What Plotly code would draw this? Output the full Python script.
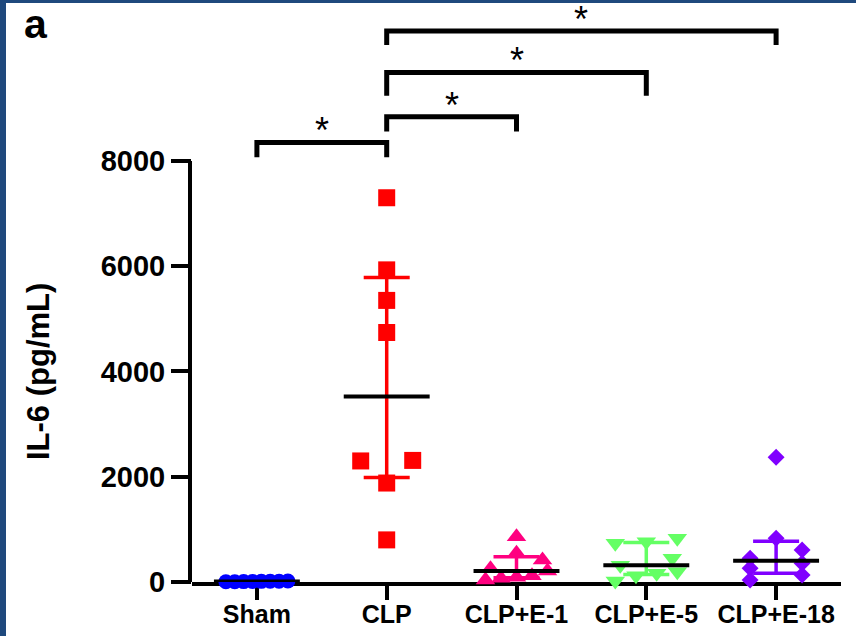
import numpy as np
import plotly.graph_objects as go

# ---------------- data ----------------
categories = ["Sham", "CLP", "CLP+E-1", "CLP+E-5", "CLP+E-18"]
sham = [12, 8, 15, 5, 10, 18, 6, 14]
clp = [7300, 5930, 5350, 4740, 2310, 2300, 1880, 800]
clp_e1 = [861, 545, 418, 250, 210, 120, 90, 70, 40]
clp_e5 = [830, 766, 735, 450, 320, 195, 165, 120, 20]
clp_e18 = [2370, 830, 608, 450, 355, 260, 133, 38]
y_tick_values = [0, 2000, 4000, 6000, 8000]

# significance comparisons (group index pairs), bracket level and tip drop (pg/mL)
comparisons = [(0, 1), (1, 2), (1, 3), (1, 4)]
bracket_levels = [8350, 8840, 9680, 10470]
bracket_drops = [280, 280, 440, 270]
sig_labels = ["*", "*", "*", "*"]

groups = [sham, clp, clp_e1, clp_e5, clp_e18]
colors = ["rgb(0,0,255)", "rgb(255,0,0)", "rgb(255,0,128)", "rgb(100,255,100)", "rgb(128,0,255)"]
symbols = ["circle", "square", "triangle-up", "triangle-down", "diamond"]
msizes = [15, 17, 17, 17, 13]

# ---------------- layout geometry ----------------
W, H = 856, 636
ML, MR, MT, MB = 192, 15, 3, 54
YMAX = 11000
plot_w = W - ML - MR
plot_h = H - MT - MB
px_per_val = plot_h / YMAX
px_per_cat = plot_w / len(categories)


def scatter_offsets(vals, row_px=10, max_width_px=62, max_step_px=52):
    """GraphPad-like horizontal spreading of points falling in the same row."""
    vals = np.asarray(vals, float)
    order = np.argsort(vals)
    offs = np.zeros(len(vals))
    rows, cur = [], [order[0]]
    for idx in order[1:]:
        if (vals[idx] - vals[cur[0]]) * px_per_val < row_px:
            cur.append(idx)
        else:
            rows.append(cur)
            cur = [idx]
    rows.append(cur)
    for row in rows:
        n = len(row)
        if n == 1:
            continue
        step = min(max_step_px, max_width_px / (n - 1))
        for k, idx in enumerate(row):
            offs[idx] = (k - (n - 1) / 2) * step
    return offs / px_per_cat


fig = go.Figure()

# points
for i, vals in enumerate(groups):
    offs = scatter_offsets(vals)
    fig.add_trace(go.Scatter(
        x=i + offs, y=vals, mode="markers",
        marker=dict(symbol=symbols[i], size=msizes[i], color=colors[i], line=dict(width=0)),
        cliponaxis=False, showlegend=False, hoverinfo="y"))

# median with interquartile range
medians, q1s, q3s = [], [], []
for vals in groups:
    q1, med, q3 = np.percentile(vals, [25, 50, 75], method="weibull")
    medians.append(med); q1s.append(q1); q3s.append(q3)

for i in range(len(groups)):
    fig.add_trace(go.Scatter(
        x=[i], y=[medians[i]], mode="markers", marker=dict(size=0.1, color=colors[i]),
        error_y=dict(type="data", symmetric=False,
                     array=[q3s[i] - medians[i]], arrayminus=[medians[i] - q1s[i]],
                     color=colors[i], thickness=3.5, width=23),
        cliponaxis=False, showlegend=False, hoverinfo="skip"))

mx, my = [], []
for i, m in enumerate(medians):
    mx += [i - 0.331, i + 0.331, None]
    my += [m, m, None]
fig.add_trace(go.Scatter(x=mx, y=my, mode="lines", line=dict(color="black", width=4),
                         cliponaxis=False, showlegend=False, hoverinfo="skip"))

shapes = []
# y-axis line only from 0 to 8000
shapes.append(dict(type="line", xref="paper", xsizemode="pixel", xanchor=0, x0=-2, x1=-2,
                   yref="y", y0=0, y1=max(y_tick_values),
                   line=dict(color="black", width=4)))
# significance brackets
for (a, b), lvl, d in zip(comparisons, bracket_levels, bracket_drops):
    shapes.append(dict(type="path", xref="x", yref="y",
                       path=f"M {a},{lvl - d} V {lvl} H {b} V {lvl - d}",
                       line=dict(color="black", width=5)))
# dark blue frame (left and top edges)
shapes.append(dict(type="rect", xref="paper", xsizemode="pixel", xanchor=0, x0=-ML, x1=-ML + 6,
                   yref="paper", y0=-1, y1=2, fillcolor="rgb(31,73,125)", line=dict(width=0)))
shapes.append(dict(type="rect", xref="paper", x0=-1, x1=2,
                   yref="paper", ysizemode="pixel", yanchor=1, y0=0, y1=MT,
                   fillcolor="rgb(31,73,125)", line=dict(width=0)))

annotations = []
for (a, b), lvl, lab in zip(comparisons, bracket_levels, sig_labels):
    annotations.append(dict(x=(a + b) / 2, y=lvl, xref="x", yref="y", text=lab, showarrow=False,
                            yanchor="bottom", yshift=-10, borderpad=0,
                            font=dict(family="Liberation Sans", size=36, color="black")))
# panel letter
annotations.append(dict(x=-(ML - 23) / plot_w, y=(H - MB - 48) / plot_h, xref="paper", yref="paper",
                        text="a", showarrow=False, xanchor="left", yanchor="bottom", borderpad=0,
                        font=dict(family="Liberation Sans", size=41, color="black", weight="bold")))
annotations.append(dict(x=-(ML - 38) / plot_w, y=(H - MB - 372) / plot_h, xref="paper", yref="paper",
                        text="IL-6 (pg/mL)", showarrow=False, textangle=-90,
                        xanchor="center", yanchor="middle",
                        font=dict(family="Liberation Sans", size=31, color="black", weight="bold")))

fig.update_layout(
    width=W, height=H, margin=dict(l=ML, r=MR, t=MT, b=MB, autoexpand=False),
    paper_bgcolor="white", plot_bgcolor="white",
    shapes=shapes, annotations=annotations,
    xaxis=dict(range=[-0.5, len(categories) - 0.5], tickvals=list(range(len(categories))),
               ticktext=categories, showline=True, linecolor="black", linewidth=4,
               ticks="outside", ticklen=14, tickwidth=4, tickcolor="black",
               ticklabelstandoff=-7,
               tickfont=dict(family="Liberation Sans", size=25, color="black", weight="bold"),
               showgrid=False, zeroline=False, layer="below traces", fixedrange=True),
    yaxis=dict(range=[0, YMAX], tickvals=y_tick_values, ticktext=[str(v) for v in y_tick_values],
               showline=False, ticks="outside", ticklen=20, tickwidth=4, tickcolor="black",
               tickfont=dict(family="Liberation Sans", size=29, color="black", weight="bold"),
               showgrid=False, zeroline=False, fixedrange=True),
)

fig.write_html("out.html", config=dict(displayModeBar=False),
               post_script="document.body.style.margin='0';document.body.style.overflow='hidden';")
